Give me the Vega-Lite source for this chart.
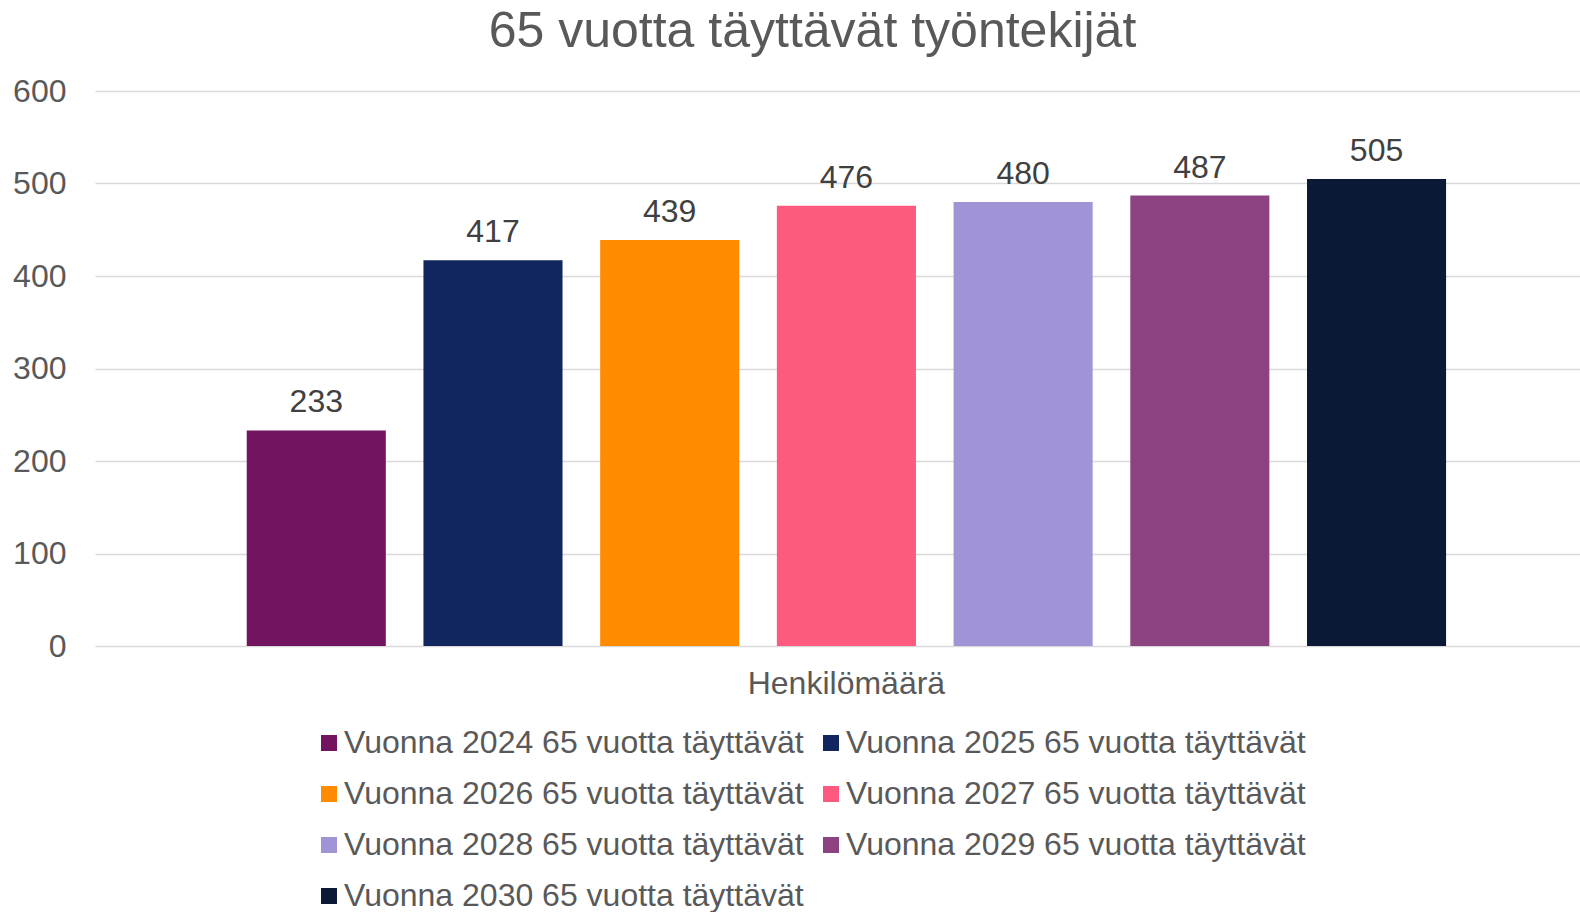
{
  "$schema": "https://vega.github.io/schema/vega-lite/v6.json",
  "width": 1485,
  "height": 555,
  "padding": {"left": 5, "right": 0, "top": 7, "bottom": 0},
  "background": "white",
  "title": {
    "text": "65 vuotta täyttävät työntekijät",
    "font": "Liberation Sans",
    "fontSize": 50,
    "fontWeight": "normal",
    "color": "#595959",
    "anchor": "middle",
    "dx": -25,
    "offset": 18
  },
  "config": {
    "font": "Liberation Sans",
    "view": {"stroke": null},
    "axis": {"labelFont": "Liberation Sans"}
  },
  "data": {
    "values": [
      {"ryhma": "Henkilömäärä", "sarja": "Vuonna 2024 65 vuotta täyttävät", "arvo": 233},
      {"ryhma": "Henkilömäärä", "sarja": "Vuonna 2025 65 vuotta täyttävät", "arvo": 417},
      {"ryhma": "Henkilömäärä", "sarja": "Vuonna 2026 65 vuotta täyttävät", "arvo": 439},
      {"ryhma": "Henkilömäärä", "sarja": "Vuonna 2027 65 vuotta täyttävät", "arvo": 476},
      {"ryhma": "Henkilömäärä", "sarja": "Vuonna 2028 65 vuotta täyttävät", "arvo": 480},
      {"ryhma": "Henkilömäärä", "sarja": "Vuonna 2029 65 vuotta täyttävät", "arvo": 487},
      {"ryhma": "Henkilömäärä", "sarja": "Vuonna 2030 65 vuotta täyttävät", "arvo": 505}
    ]
  },
  "encoding": {
    "x": {
      "field": "ryhma",
      "type": "nominal",
      "scale": {"paddingInner": 0, "paddingOuter": 0.1, "align": 0.536},
      "axis": {
        "title": null,
        "labelAngle": 0,
        "labelFontSize": 32,
        "labelColor": "#595959",
        "labelLimit": 0,
        "ticks": false,
        "domain": false,
        "grid": false,
        "labelPadding": 22
      }
    },
    "xOffset": {
      "field": "sarja",
      "type": "nominal",
      "scale": {"paddingInner": 0.213, "paddingOuter": 0.108}
    },
    "y": {
      "field": "arvo",
      "type": "quantitative",
      "scale": {"domain": [0, 600]},
      "axis": {
        "title": null,
        "values": [0, 100, 200, 300, 400, 500, 600],
        "labelFontSize": 32,
        "labelColor": "#595959",
        "ticks": false,
        "domain": false,
        "gridColor": "#d9d9d9",
        "gridWidth": 1.5,
        "labelPadding": 29,
        "minExtent": 90,
        "maxExtent": 90
      }
    }
  },
  "layer": [
    {
      "mark": {"type": "bar"},
      "encoding": {
        "color": {
          "field": "sarja",
          "type": "nominal",
          "scale": {
            "domain": [
              "Vuonna 2024 65 vuotta täyttävät",
              "Vuonna 2025 65 vuotta täyttävät",
              "Vuonna 2026 65 vuotta täyttävät",
              "Vuonna 2027 65 vuotta täyttävät",
              "Vuonna 2028 65 vuotta täyttävät",
              "Vuonna 2029 65 vuotta täyttävät",
              "Vuonna 2030 65 vuotta täyttävät"
            ],
            "range": ["#731461", "#11265E", "#FF8B00", "#FE5A80", "#A093D6", "#8D4381", "#0B1937"]
          },
          "legend": {
            "title": null,
            "orient": "none",
            "legendX": 218,
            "legendY": 636,
            "direction": "horizontal",
            "columns": 2,
            "symbolType": "square",
            "symbolSize": 256,
            "symbolStrokeWidth": 0,
            "labelFontSize": 32,
            "labelColor": "#595959",
            "labelFont": "Liberation Sans",
            "labelLimit": 0,
            "labelOffset": -1,
            "columnPadding": 11,
            "rowPadding": 19
          }
        }
      }
    },
    {
      "mark": {
        "type": "text",
        "baseline": "alphabetic",
        "dy": -18,
        "fontSize": 32,
        "color": "#404040",
        "font": "Liberation Sans"
      },
      "encoding": {
        "text": {"field": "arvo", "type": "quantitative"}
      }
    }
  ]
}
